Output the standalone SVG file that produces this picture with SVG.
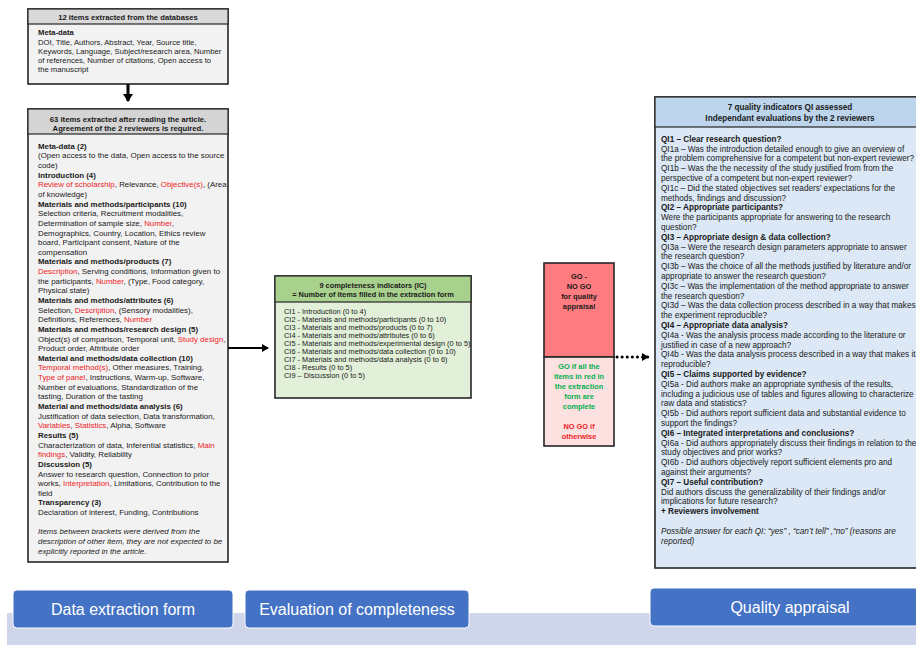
<svg xmlns="http://www.w3.org/2000/svg" width="916" height="655" viewBox="0 0 916 655">
<defs>
<style>
text{font-family:"Liberation Sans",Arial,sans-serif;fill:#1a1a1a}
.box{stroke:#262626;stroke-width:1.6}
.sep{stroke:#262626;stroke-width:1.2}
.s1{font-size:7.7px}
.s2{font-size:7.9px}
.s3{font-size:7.4px}
.s4{font-size:8.2px}
.b{font-weight:bold}
.i{font-style:italic}
.r{fill:#ee1c25}
.g{fill:#00b050}
.c{text-anchor:middle}
.btn{fill:#4472c4;stroke:#ffffff;stroke-width:1}
.bt{font-size:16px;fill:#ffffff;text-anchor:middle}
</style>
<marker id="ah" markerWidth="10" markerHeight="10" refX="7" refY="5" orient="auto" markerUnits="userSpaceOnUse">
<path d="M0,0 L8,5 L0,10 Z" fill="#000"/>
</marker>
<marker id="ah2" markerWidth="8" markerHeight="8" refX="6" refY="4" orient="auto" markerUnits="userSpaceOnUse">
<path d="M0,0 L7,4 L0,8 Z" fill="#000"/>
</marker>
</defs>
<rect width="916" height="655" fill="#ffffff"/>

<g id="banner-strip"><rect x="7" y="613" width="909" height="32" fill="#cfd5ea"/></g>

<g id="node-databases">
<rect class="box" x="28" y="9" width="200" height="75" fill="#f2f2f2"/>
<rect class="sep" x="28" y="9" width="200" height="15" fill="#d9d9d9"/>
<text class="s1 b c" x="128" y="19.8">12 items extracted from the databases</text>
<text class="s1 b" x="38" y="34.7">Meta-data</text>
<text class="s1" x="38" y="44.7">DOI, Title, Authors, Abstract, Year, Source title,</text>
<text class="s1" x="38" y="53.9">Keywords, Language, Subject/research area, Number</text>
<text class="s1" x="38" y="63.1">of references, Number of citations, Open access to</text>
<text class="s1" x="38" y="72.3">the manuscript</text>
</g>

<g id="node-extraction">
<rect class="box" x="28" y="109" width="200" height="453" fill="#f2f2f2"/>
<rect class="sep" x="28" y="109" width="200" height="25" fill="#d4d4d4"/>
<text class="s1 b c" x="128" y="121.5">63 items extracted after reading the article.</text>
<text class="s1 b c" x="128" y="130.8">Agreement of the 2 reviewers is required.</text>
<text class="s2 b" x="38" y="148.7">Meta-data (2)</text>
<text class="s2" x="38" y="158.3">(Open access to the data, Open access to the source</text>
<text class="s2" x="38" y="168.0">code)</text>
<text class="s2 b" x="38" y="177.6">Introduction (4)</text>
<text class="s2" x="38" y="187.3"><tspan class="r">Review of scholarship</tspan>, Relevance, <tspan class="r">Objective(s)</tspan>, (Area</text>
<text class="s2" x="38" y="196.9">of knowledge)</text>
<text class="s2 b" x="38" y="206.5">Materials and methods/participants (10)</text>
<text class="s2" x="38" y="216.2">Selection criteria, Recruitment modalities,</text>
<text class="s2" x="38" y="225.8">Determination of sample size, <tspan class="r">Number</tspan>,</text>
<text class="s2" x="38" y="235.5">Demographics, Country, Location, Ethics review</text>
<text class="s2" x="38" y="245.1">board, Participant consent, Nature of the</text>
<text class="s2" x="38" y="254.7">compensation</text>
<text class="s2 b" x="38" y="264.4">Materials and methods/products (7)</text>
<text class="s2" x="38" y="274.0"><tspan class="r">Description</tspan>, Serving conditions, Information given to</text>
<text class="s2" x="38" y="283.7">the participants, <tspan class="r">Number</tspan>, (Type, Food category,</text>
<text class="s2" x="38" y="293.3">Physical state)</text>
<text class="s2 b" x="38" y="302.9">Materials and methods/attributes (6)</text>
<text class="s2" x="38" y="312.6">Selection, <tspan class="r">Description</tspan>, (Sensory modalities),</text>
<text class="s2" x="38" y="322.2">Definitions, References, <tspan class="r">Number</tspan></text>
<text class="s2 b" x="38" y="331.9">Materials and methods/research design (5)</text>
<text class="s2" x="38" y="341.5">Object(s) of comparison, Temporal unit, <tspan class="r">Study design</tspan>,</text>
<text class="s2" x="38" y="351.1">Product order, Attribute order</text>
<text class="s2 b" x="38" y="360.8">Material and methods/data collection (10)</text>
<text class="s2" x="38" y="370.4"><tspan class="r">Temporal method(s)</tspan>, Other measures, Training,</text>
<text class="s2" x="38" y="380.1"><tspan class="r">Type of panel</tspan>, Instructions, Warm-up, Software,</text>
<text class="s2" x="38" y="389.7">Number of evaluations, Standardization of the</text>
<text class="s2" x="38" y="399.3">tasting, Duration of the tasting</text>
<text class="s2 b" x="38" y="409.0">Material and methods/data analysis (6)</text>
<text class="s2" x="38" y="418.6">Justification of data selection, Data transformation,</text>
<text class="s2" x="38" y="428.3"><tspan class="r">Variables</tspan>, <tspan class="r">Statistics</tspan>, Alpha, Software</text>
<text class="s2 b" x="38" y="437.9">Results (5)</text>
<text class="s2" x="38" y="447.5">Characterization of data, Inferential statistics, <tspan class="r">Main</tspan></text>
<text class="s2" x="38" y="457.2"><tspan class="r">findings</tspan>, Validity, Reliability</text>
<text class="s2 b" x="38" y="466.8">Discussion (5)</text>
<text class="s2" x="38" y="476.5">Answer to research question, Connection to prior</text>
<text class="s2" x="38" y="486.1">works, <tspan class="r">Interpretation</tspan>, Limitations, Contribution to the</text>
<text class="s2" x="38" y="495.7">field</text>
<text class="s2 b" x="38" y="505.4">Transparency (3)</text>
<text class="s2" x="38" y="515.0">Declaration of interest, Funding, Contributions</text>
<text class="s2 i" x="38" y="534.3">Items between brackets were derived from the</text>
<text class="s2 i" x="38" y="543.9">description of other item, they are not expected to be</text>
<text class="s2 i" x="38" y="553.6">explicitly reported in the article.</text>
</g>

<g id="node-completeness">
<rect class="box" x="275" y="276" width="196" height="122" fill="#e2f0d9"/>
<rect class="sep" x="275" y="276" width="196" height="26" fill="#a9d18e"/>
<text class="s3 b c" x="373" y="287.7">9 completeness indicators (IC)</text>
<text class="s3 b c" x="373" y="296.9">= Number of items filled in the extraction form</text>
<text class="s3" x="284" y="313.6">CI1 - Introduction (0 to 4)</text>
<text class="s3" x="284" y="321.7">CI2 - Materials and methods/participants (0 to 10)</text>
<text class="s3" x="284" y="329.8">CI3 - Materials and methods/products (0 to 7)</text>
<text class="s3" x="284" y="337.9">CI4 - Materials and methods/attributes (0 to 6)</text>
<text class="s3" x="284" y="346.0">CI5 - Materials and methods/experimental design (0 to 5)</text>
<text class="s3" x="284" y="354.1">CI6 - Materials and methods/data collection (0 to 10)</text>
<text class="s3" x="284" y="362.2">CI7 - Materials and methods/data analysis (0 to 6)</text>
<text class="s3" x="284" y="370.3">CI8 - Results (0 to 5)</text>
<text class="s3" x="284" y="378.4">CI9 – Discussion (0 to 5)</text>
</g>

<g id="node-gonogo">
<rect class="box" x="544" y="263" width="70" height="94" fill="#ff7c80"/>
<rect class="box" x="544" y="357" width="70" height="89" fill="#fde1e1"/>
<text class="s3 b c" x="579" y="278.6">GO -</text>
<text class="s3 b c" x="579" y="288.6">NO GO</text>
<text class="s3 b c" x="579" y="298.6">for quality</text>
<text class="s3 b c" x="579" y="308.6">appraisal</text>
<text class="s3 b c g" x="579" y="368.6">GO if all the</text>
<text class="s3 b c g" x="579" y="378.6">items in red in</text>
<text class="s3 b c g" x="579" y="388.6">the extraction</text>
<text class="s3 b c g" x="579" y="398.6">form are</text>
<text class="s3 b c g" x="579" y="408.6">complete</text>
<text class="s3 b c r" x="579" y="428.6">NO GO if</text>
<text class="s3 b c r" x="579" y="438.6">otherwise</text>
</g>

<g id="node-quality">
<rect class="box" x="655" y="97" width="265" height="471" fill="#dce8f5"/>
<rect class="sep" x="655" y="97" width="265" height="30" fill="#bcd4ec"/>
<text class="s4 b c" x="790" y="110">7 quality indicators QI assessed</text>
<text class="s4 b c" x="790" y="120.5">Independant evaluations by the 2 reviewers</text>
<text class="s4 b" x="661" y="141.8">QI1 – Clear research question?</text>
<text class="s4" x="661" y="151.6">QI1a – Was the introduction detailed enough to give an overview of</text>
<text class="s4" x="661" y="161.4">the problem comprehensive for a competent but non-expert reviewer?</text>
<text class="s4" x="661" y="171.2">QI1b – Was the the necessity of the study justified from from the</text>
<text class="s4" x="661" y="181.0">perspective of a competent but non-expert reviewer?</text>
<text class="s4" x="661" y="190.8">QI1c – Did the stated objectives set readers’ expectations for the</text>
<text class="s4" x="661" y="200.6">methods, findings and discussion?</text>
<text class="s4 b" x="661" y="210.4">QI2 – Appropriate participants?</text>
<text class="s4" x="661" y="220.2">Were the participants appropriate for answering to the research</text>
<text class="s4" x="661" y="230.0">question?</text>
<text class="s4 b" x="661" y="239.8">QI3 – Appropriate design &amp; data collection?</text>
<text class="s4" x="661" y="249.6">QI3a – Were the research design parameters appropriate to answer</text>
<text class="s4" x="661" y="259.4">the research question?</text>
<text class="s4" x="661" y="269.2">QI3b – Was the choice of all the methods justified by literature and/or</text>
<text class="s4" x="661" y="279.0">appropriate to answer the research question?</text>
<text class="s4" x="661" y="288.8">QI3c – Was the implementation of the method appropriate to answer</text>
<text class="s4" x="661" y="298.6">the research question?</text>
<text class="s4" x="661" y="308.4">QI3d – Was the data collection process described in a way that makes</text>
<text class="s4" x="661" y="318.2">the experiment reproducible?</text>
<text class="s4 b" x="661" y="328.0">QI4 – Appropriate data analysis?</text>
<text class="s4" x="661" y="337.8">QI4a - Was the analysis process made according to the literature or</text>
<text class="s4" x="661" y="347.6">justified in case of a new approach?</text>
<text class="s4" x="661" y="357.4">QI4b - Was the data analysis process described in a way that makes it</text>
<text class="s4" x="661" y="367.2">reproducible?</text>
<text class="s4 b" x="661" y="377.0">QI5 – Claims supported by evidence?</text>
<text class="s4" x="661" y="386.8">QI5a - Did authors make an appropriate synthesis of the results,</text>
<text class="s4" x="661" y="396.6">including a judicious use of tables and figures allowing to characterize</text>
<text class="s4" x="661" y="406.4">raw data and statistics?</text>
<text class="s4" x="661" y="416.2">QI5b - Did authors report sufficient data and substantial evidence to</text>
<text class="s4" x="661" y="426.0">support the findings?</text>
<text class="s4 b" x="661" y="435.8">QI6 – Integrated interpretations and conclusions?</text>
<text class="s4" x="661" y="445.6">QI6a - Did authors appropriately discuss their findings in relation to the</text>
<text class="s4" x="661" y="455.4">study objectives and prior works?</text>
<text class="s4" x="661" y="465.2">QI6b - Did authors objectively report sufficient elements pro and</text>
<text class="s4" x="661" y="475.0">against their arguments?</text>
<text class="s4 b" x="661" y="484.8">QI7 – Useful contribution?</text>
<text class="s4" x="661" y="494.6">Did authors discuss the generalizability of their findings and/or</text>
<text class="s4" x="661" y="504.4">implications for future research?</text>
<text class="s4 b" x="661" y="514.2">+ Reviewers involvement</text>
<text class="s4 i" x="661" y="533.8">Possible answer for each QI: “yes” , “can’t tell” ,“no”  (reasons are</text>
<text class="s4 i" x="661" y="543.6">reported)</text>
</g>

<g id="connectors">
<line x1="128" y1="84" x2="128" y2="101" stroke="#000" stroke-width="3" marker-end="url(#ah)"/>
<line x1="228" y1="348" x2="268" y2="348" stroke="#000" stroke-width="2" marker-end="url(#ah2)"/>
<line x1="617" y1="357" x2="648" y2="357" stroke="#000" stroke-width="3" stroke-dasharray="0.1 5" stroke-linecap="round" marker-end="url(#ah2)"/>
</g>

<g id="label-extraction">
<rect class="btn" x="13" y="590" width="220" height="38" rx="4"/>
<text class="bt" x="123" y="615">Data extraction form</text>
</g>
<g id="label-completeness">
<rect class="btn" x="245" y="590" width="224" height="38" rx="4"/>
<text class="bt" x="357" y="615">Evaluation of completeness</text>
</g>
<g id="label-quality">
<rect class="btn" x="650" y="588" width="272" height="38" rx="4"/>
<text class="bt" x="790" y="613">Quality appraisal</text>
</g>
</svg>
